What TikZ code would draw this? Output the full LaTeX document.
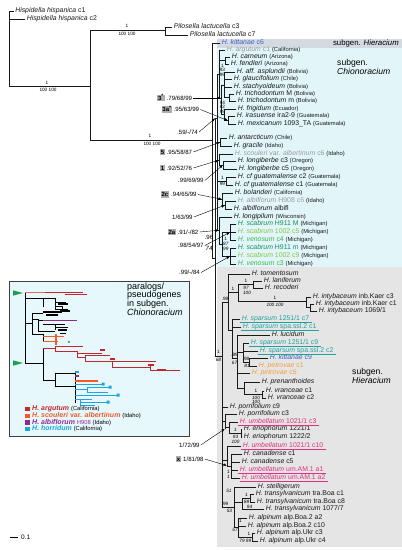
\documentclass[tikz,border=0pt]{standalone}
\usepackage{fontspec}
\setmainfont{Liberation Sans}
\usetikzlibrary{arrows.meta}
\definecolor{chbg}{HTML}{E2F6F9}
\definecolor{hibg}{HTML}{E5E5E5}
\definecolor{stripbg}{HTML}{D3DAE2}
\definecolor{grayname}{HTML}{9C9C9C}
\definecolor{kitblue}{HTML}{3F5FC0}
\definecolor{dkgreen}{HTML}{178A5C}
\definecolor{ltgreen}{HTML}{86C440}
\definecolor{mdgreen}{HTML}{3DB54A}
\definecolor{spteal}{HTML}{1FA3A0}
\definecolor{petro}{HTML}{F0A040}
\definecolor{umb}{HTML}{E0307F}
\definecolor{argred}{HTML}{C1272D}
\definecolor{argpink}{HTML}{D87070}
\definecolor{scoor}{HTML}{F15A29}
\definecolor{albpur}{HTML}{92278F}
\definecolor{horcy}{HTML}{1CA5E0}
\definecolor{trigreen}{HTML}{1AA34A}
\definecolor{insetbg}{HTML}{E6F8FB}
\newcommand{\spname}[1]{\textit{#1}}
\newcommand{\qlf}[1]{{\fontsize{5.8}{6}\selectfont #1}}
\newcommand{\tipn}[5]{\draw[br] (#2,#4) -- (#3,#4) node[tiplab] (#1) {#5};}
\newcommand{\brv}[3]{\draw[br] (#1,#2) -- (#1,#3);}
\newcommand{\brh}[3]{\draw[br] (#2,#1) -- (#3,#1);}
\newcommand{\supp}[4]{\node[supl] (#1) at (#2,#3) {#4};}
\newcommand{\suppi}[4]{\node[supi] (#1) at (#2,#3) {#4};}
\newcommand{\ulin}[2]{\draw[#2, line width=0.45pt] ([xshift=-2pt,yshift=0.6pt]#1.south west) -- ([xshift=2.5pt,yshift=0.6pt]#1.south east);}
\begin{document}
\begin{tikzpicture}[x=1pt,y=-1pt,
 br/.style={line width=0.55pt, black!90, line cap=rect},
 tiplab/.style={anchor=west, xshift=1.5pt, inner sep=0pt, text height=4.9pt, text depth=1.3pt, font=\fontsize{6.9}{8}\selectfont},
 supl/.style={inner sep=0pt, font=\fontsize{4.7}{5}\selectfont},
 supi/.style={inner sep=0pt, font=\fontsize{4.7}{5}\selectfont\itshape},
 alab/.style={anchor=west, inner sep=0pt, font=\fontsize{6.1}{6.5}\selectfont},
 gbox/.style={fill=black!32, inner sep=0.8pt, text height=4.4pt, text depth=0.3pt, font=\fontsize{6}{6.5}\selectfont\bfseries},
 arr/.style={line width=0.4pt, -{Triangle[length=3pt,width=2.4pt]}},
 inl/.style={line width=0.8pt},
 sglab/.style={anchor=west, inner sep=0pt, font=\fontsize{8.6}{9}\selectfont},
 leg/.style={anchor=west, inner sep=0pt, font=\fontsize{7}{8}\selectfont},
]
\useasboundingbox (0,0) rectangle (402,550);
\fill[white] (0,0) rectangle (402,550);
% backgrounds
\fill[stripbg] (217,38.5) rectangle (402,47.5);
\fill[chbg] (217,47.5) rectangle (402,267);
\fill[hibg] (217,267) rectangle (402,547);
\node[anchor=east, inner sep=0pt, font=\fontsize{7.8}{8}\selectfont] (sgh1) at (399,43) {subgen. \textit{Hieracium}};
\node[sglab] (sgc1) at (337,63) {subgen.};
\node[sglab] (sgc2) at (337,71.5) {\textit{Chionoracium}};
\node[sglab] (sgh2) at (352,372) {subgen.};
\node[sglab] (sgh3) at (352,380.5) {\textit{Hieracium}};
% outgroups
\brv{9}{11}{86}
\tipn{hisA}{9}{13.5}{11}{\spname{Hispidella hispanica} c1}
\tipn{hisB}{9}{25}{19}{\spname{Hispidella hispanica} c2}
\brh{86}{9}{90}
\supp{s01}{47}{82.5}{1}
\supp{s02}{48}{89.8}{100 100}
\brv{90}{30}{140}
\brh{30}{90}{165}
\supp{s03}{127}{26.3}{1}
\supp{s04}{127}{33.6}{100 100}
\brv{165}{27}{35}
\tipn{pilA}{165}{172}{27}{\spname{Pilosella lactucella} c3}
\tipn{pilB}{165}{188}{35}{\spname{Pilosella lactucella} c7}
\brh{140}{90}{212}
\supp{s05}{150}{136.3}{1}
\supp{s06}{152}{143.6}{100 100}
% backbone
\brv{212}{43}{258}
\tipn{kit6}{212}{220}{43}{\textcolor{kitblue}{\spname{H. kittanae} c6}}
\brh{258}{212}{215}
\brv{215}{118}{356}
\brh{118}{215}{217}
\brv{217}{74}{230}
% Chionoracium
\brh{74}{217}{219}
\brv{219}{50}{98}
\tipn{arg1}{219}{225}{50}{\textcolor{grayname}{\spname{H. argutum} c1} \qlf{(California)}}
\brh{60.5}{219}{225}
\brv{225}{57}{64}
\tipn{carn}{225}{230}{57}{\spname{H. carneum} \qlf{(Arizona)}}
\tipn{fend}{225}{229}{64}{\spname{H. fendleri} \qlf{(Arizona)}}
\brh{98}{219}{221}
\brv{221}{85}{114.5}
\brh{85}{221}{224}
\brv{224}{72}{97.5}
\tipn{aspl}{224}{235}{72}{\spname{H. aff. asplundii} \qlf{(Bolivia)}}
\tipn{glau}{224}{232}{79}{\spname{H. glaucifolium} \qlf{(Chile)}}
\tipn{stac}{224}{232}{87}{\spname{H. stachyoideum} \qlf{(Bolivia)}}
\brh{97.5}{224}{229}
\brv{229}{94}{101}
\tipn{triM}{229}{234}{94}{\spname{H. trichodontum} M \qlf{(Bolivia)}}
\tipn{trim}{229}{236}{101}{\spname{H. trichodontum} m \qlf{(Bolivia)}}
\brh{114.5}{221}{224}
\brv{224}{109}{120}
\tipn{frig}{224}{236}{109}{\spname{H. frigidum} \qlf{(Ecuador)}}
\brh{120}{224}{228}
\brv{228}{116}{124}
\tipn{iras}{228}{235}{116}{\spname{H. irasuense} ira2-9 \qlf{(Guatemala)}}
\tipn{mexi}{228}{236}{124}{\spname{H. mexicanum} 1093\_TA \qlf{(Guatemala)}}
\supp{s07}{222.5}{65.5}{1}
\supp{s08}{222.5}{70}{93}
\supp{s09}{222.5}{74.5}{99}
\supp{s10}{222.5}{102.5}{94}
\supp{s11}{222.5}{107}{62}
\supp{s12}{222.5}{111.5}{99}
\brh{142}{217}{220}
\brv{220}{138}{146}
\tipn{anta}{220}{227}{138}{\spname{H. antarcticum} \qlf{(Chile)}}
\tipn{grac}{220}{232}{146}{\spname{H. gracile} \qlf{(Idaho)}}
\brh{160}{217}{219}
\brv{219}{154}{165}
\tipn{scou}{219}{233}{154}{\textcolor{grayname}{\spname{H. scouleri} var. \spname{albertinum} c6} \qlf{(Idaho)}}
\brh{165}{219}{223}
\brv{223}{161}{169}
\tipn{lonA}{223}{236}{161}{\spname{H. longiberbe} c3 \qlf{(Oregon)}}
\tipn{lonB}{223}{237}{169}{\spname{H. longiberbe} c5 \qlf{(Oregon)}}
\brh{181}{217}{226}
\brv{226}{177}{185}
\tipn{guaA}{226}{236}{177}{\spname{H. cf guatemalense} c2 \qlf{(Guatemala)}}
\tipn{guaB}{226}{233}{185}{\spname{H. cf guatemalense} c1 \qlf{(Guatemala)}}
\supp{s13}{222.5}{178.3}{1}
\supp{s14}{222.5}{184.3}{99}
\brh{199}{217}{222}
\brv{222}{193}{205}
\tipn{bola}{222}{233}{193}{\spname{H. bolanderi} \qlf{(California)}}
\brh{205}{222}{225}
\brv{225}{201}{209}
\tipn{albA}{225}{236}{201}{\textcolor{grayname}{\spname{H. albiflorum} H908 c6} \qlf{(Idaho)}}
\tipn{albB}{225}{232}{209}{\spname{H. albiflorum} albifl}
\brh{230}{217}{219}
\brv{219}{217}{244}
\tipn{lonp}{219}{232}{217}{\spname{H. longipilum} \qlf{(Wisconsin)}}
\brh{244}{219}{222}
\brv{222}{232}{256}
\brh{232}{222}{230}
\brv{230}{224}{240}
\tipn{scA}{230}{236}{224}{\textcolor{dkgreen}{\spname{H. scabrum} H911 M} \qlf{(Michigan)}}
\tipn{scB}{230}{236}{232}{\textcolor{ltgreen}{\spname{H. scabrum} 1002 c5} \qlf{(Michigan)}}
\tipn{veA}{230}{236}{240}{\textcolor{mdgreen}{\spname{H. venosum} c4} \qlf{(Michigan)}}
\brh{256}{222}{230}
\brv{230}{248}{264}
\tipn{scC}{230}{236}{248}{\textcolor{dkgreen}{\spname{H. scabrum} H911 m} \qlf{(Michigan)}}
\tipn{scD}{230}{236}{256}{\textcolor{ltgreen}{\spname{H. scabrum} 1002 c9} \qlf{(Michigan)}}
\tipn{veB}{230}{236}{264}{\textcolor{mdgreen}{\spname{H. venosum} c3} \qlf{(Michigan)}}
\supp{s15}{225.8}{239}{1}
\suppi{s16}{225.8}{244}{87}
\suppi{s17}{225.8}{249}{99}
% Hieracium
\brh{356}{215}{222}
\supp{s18}{218.5}{352.3}{1}
\suppi{s19}{218.5}{360.2}{68}
\brv{222}{302}{507}
\brh{302}{222}{228}
\supp{s20}{225}{298.4}{.99}
\brv{228}{274}{330}
\tipn{tome}{228}{250}{274}{\spname{H. tomentosum}}
\brh{292}{228}{238}
\supp{s21}{233}{288.6}{1}
\brv{238}{284.5}{301}
\brh{284.5}{238}{253}
\supp{s22}{246}{281.3}{1}
\suppi{s23}{246}{288}{97}
\suppi{s24}{247}{293}{100}
\brv{253}{281}{288}
\tipn{lani}{253}{262}{281}{\spname{H. laniferum}}
\tipn{reco}{253}{263}{288}{\spname{H. recoderi}}
\brh{301}{238}{306}
\supp{s25}{275}{297.5}{1}
\suppi{s26}{275}{304.6}{100 100}
\brv{306}{297}{307.5}
\tipn{intA}{306}{311}{297}{\spname{H. intybaceum} inb.Kaer c3}
\brh{307.5}{306}{310}
\brv{310}{304}{311}
\tipn{intB}{310}{314}{304}{\spname{H. intybaceum} inb.Kaer c1}
\tipn{intC}{310}{317}{311}{\spname{H. intybaceum} 1069/1}
\brh{330}{228}{232}
\brv{232}{319}{358}
\tipn{spA}{232}{240}{319}{\textcolor{spteal}{\spname{H. sparsum} 1251/1 c7}}
\tipn{spB}{232}{241}{327}{\textcolor{spteal}{\spname{H. sparsum} spa.ssl.2 c1}}
\brh{358}{232}{237}
\supp{s27}{234.5}{354.6}{.99}
\suppi{s28}{234.5}{362.6}{67}
\brv{237}{335}{388}
\tipn{luci}{237}{270}{335}{\spname{H. lucidum}}
\brh{352}{237}{243}
\brv{243}{343}{362}
\tipn{spC}{243}{249}{343}{\textcolor{spteal}{\spname{H. sparsum} 1251/1 c9}}
\tipn{spD}{243}{258}{351}{\textcolor{spteal}{\spname{H. sparsum} spa.ssl.2 c2}}
\brh{362}{243}{249}
\supp{s29}{246}{358.6}{.98}
\suppi{s30}{247}{366}{81}
\brv{249}{358}{366}
\tipn{kit9}{249}{268}{358}{\textcolor{kitblue}{\spname{H. kittanae} c9}}
\tipn{petA}{249}{257}{366}{\textcolor{petro}{\spname{H. petrovae} c1}}
\tipn{petB}{237}{250}{373}{\textcolor{petro}{\spname{H. petrovae} c6}}
\brh{388}{237}{244}
\brv{244}{382}{394.5}
\tipn{pren}{244}{260}{382}{\spname{H. prenanthoides}}
\brh{394.5}{244}{262}
\supp{s31}{256}{391.2}{1}
\suppi{s32}{256}{397.6}{100}
\suppi{s33}{256}{402}{100}
\brv{262}{391}{398}
\tipn{vrA}{262}{264}{391}{\spname{H. vranceae} c1}
\tipn{vrB}{262}{266}{398}{\spname{H. vranceae} c2}
\tipn{porA}{222}{228}{407}{\spname{H. porrifolium} c9}
\brh{421}{222}{225}
\brv{225}{414}{429}
\tipn{porB}{225}{237}{414}{\spname{H. porrifolium} c3}
\brh{427}{225}{229}
\brv{229}{422}{433}
\tipn{umA}{229}{238}{422}{\textcolor{umb}{\spname{H. umbellatum} 1021/1 c3}}
\brh{433}{229}{241}
\supp{s34}{235.5}{430.2}{1}
\suppi{s35}{235.5}{436.5}{93}
\suppi{s36}{235.5}{441.5}{100}
\brv{241}{429}{437}
\tipn{erA}{241}{242}{429}{\spname{H. eriophorum} 1221/1}
\tipn{erB}{241}{242}{437}{\spname{H. eriophorum} 1222/2}
\brh{460}{222}{227}
\brv{227}{446}{466}
\tipn{umB}{227}{241}{446}{\textcolor{umb}{\spname{H. umbellatum} 1021/1 c10}}
\brh{466}{227}{231}
\brv{231}{454}{478}
\tipn{caA}{231}{242}{454}{\spname{H. canadense} c1}
\tipn{caB}{231}{240}{462}{\spname{H. canadense} c5}
\tipn{umC}{231}{238}{470}{\textcolor{umb}{\spname{H. umbellatum} um.AM.1 a1}}
\tipn{umD}{231}{240}{478}{\textcolor{umb}{\spname{H. umbellatum} um.AM.1 a2}}
\supp{s37}{228.5}{471.5}{1}
\suppi{s38}{228.5}{476.5}{1}
\suppi{s39}{229}{491}{51}
\brh{507}{222}{234}
\supp{s40}{225}{503.4}{.99}
\suppi{s41}{229.5}{511}{53}
\brv{234}{487}{527.5}
\tipn{stel}{234}{256}{487}{\spname{H. stelligerum}}
\brh{502}{234}{242}
\brv{242}{498}{509}
\brh{498}{242}{250}
\brv{250}{494}{502}
\tipn{trA}{250}{254}{494}{\spname{H. transylvanicum} tra.Boa c1}
\tipn{trB}{250}{255}{502}{\spname{H. transylvanicum} tra.Boa c8}
\tipn{trC}{242}{264}{509}{\spname{H. transylvanicum} 1077/7}
\supp{s42}{246.5}{494.8}{1}
\suppi{s43}{246.5}{502.3}{88}
\suppi{s44}{249.5}{506.4}{94}
\brh{527.5}{234}{238}
\brv{238}{518}{537}
\tipn{alA}{238}{247}{518}{\spname{H. alpinum} alp.Boa.2 a2}
\tipn{alB}{238}{246}{526}{\spname{H. alpinum} alp.Boa.2 c10}
\brh{537}{238}{252}
\brv{252}{533}{541}
\tipn{alC}{252}{255}{533}{\spname{H. alpinum} alp.Ukr c3}
\tipn{alD}{252}{258}{541}{\spname{H. alpinum} alp.Ukr c4}
\supp{s45}{240.5}{521}{1}
\suppi{s46}{235}{530}{57}
\supp{s47}{249}{534.3}{1}
\suppi{s48}{242}{540.8}{79}
\suppi{s49}{248.5}{540.8}{99}
% underlines
\ulin{spA}{spteal}\ulin{spB}{spteal}\ulin{spC}{spteal}\ulin{spD}{spteal}
\ulin{umA}{umb}\ulin{umB}{umb}\ulin{umC}{umb}\ulin{umD}{umb}
% node coordinates for arrows
\coordinate (t3) at (220.6,98);
\coordinate (t3a) at (227.6,120.5);
\coordinate (t59) at (215,118.4);
\coordinate (t5) at (219.6,142.3);
\coordinate (t1) at (218.6,160.3);
\coordinate (t99) at (222.6,165.3);
\coordinate (t2c) at (221.6,199.2);
\coordinate (t163) at (224.6,205.3);
\coordinate (t2a) at (218.6,230.3);
\coordinate (t98) at (229.6,232.5);
\coordinate (t84) at (229.6,256.4);
\coordinate (t72) at (224.6,429);
\coordinate (t81) at (226.6,465.5);
% left labels
\node[gbox] (b3) at (161,98) {3\textsuperscript{*}};
\node[alab] (l3) at (166.5,98) {.79/68/99};
\draw[arr] ([xshift=1pt]l3.east) -- (t3);
\node[gbox] (b3a) at (167,109.5) {3a\textsuperscript{*}};
\node[alab] (l3a) at (173.5,109.5) {.95/63/99};
\draw[arr] ([xshift=1pt]l3a.east) -- (t3a);
\node[alab] (l59) at (177,132) {.59/-/74};
\draw[arr] ([xshift=1pt]l59.east) -- (t59);
\node[gbox] (b5) at (162.5,152) {5};
\node[alab] (l5) at (166.5,152) {.95/58/87};
\draw[arr] ([xshift=1pt]l5.east) -- (t5);
\node[gbox] (b1) at (162.5,168) {1};
\node[alab] (l1) at (166.5,168) {.92/52/76};
\draw[arr] ([xshift=1pt]l1.east) -- (t1);
\node[alab] (l99) at (178,180.5) {.99/69/99};
\draw[arr] ([xshift=1pt]l99.east) -- (t99);
\node[gbox] (b2c) at (165,194.5) {2c};
\node[alab] (l2c) at (171,194.5) {.94/65/99};
\draw[arr] ([xshift=1pt]l2c.east) -- (t2c);
\node[alab] (l163) at (172,217) {1/63/99};
\draw[arr] ([xshift=1pt]l163.east) -- (t163);
\node[gbox] (b2a) at (172,232) {2a};
\node[alab] (l2a) at (177.5,232) {.91/-/82};
\draw[arr] ([xshift=1pt]l2a.east) -- (t2a);
\node[alab] (l96) at (204.5,237.8) {.96};
\node[alab] (l98) at (178,245.5) {.98/54/97};
\node[alab, font=\fontsize{6.1}{6.5}\selectfont\itshape] (l74) at (205.5,248.3) {74};
\draw[arr] ([xshift=1pt]l98.east) -- (t98);
\node[alab] (l84) at (179,272.5) {.99/-/84};
\draw[arr] ([xshift=1pt]l84.east) -- (t84);
\node[alab] (l72) at (179,445) {1/72/99};
\draw[arr] ([xshift=1pt]l72.east) -- (t72);
\node[gbox] (bx) at (178.5,459) {x};
\node[alab] (l81) at (183,459) {1/81/98};
\draw[arr] ([xshift=1pt]l81.east) -- (t81);
% inset
\draw[fill=insetbg, draw=black!75, line width=0.8pt] (9,281) rectangle (189,436);
\node[sglab, font=\fontsize{9}{9}\selectfont] (pa1) at (127,287) {paralogs/};
\node[sglab, font=\fontsize{9}{9}\selectfont] (pa2) at (127,295.5) {pseudogenes};
\node[sglab, font=\fontsize{9}{9}\selectfont] (pa3) at (127,304) {in subgen.};
\node[sglab, font=\fontsize{9}{9}\selectfont] (pa4) at (127,312.5) {\textit{Chionoracium}};
\fill[trigreen] (13,290.3) -- (23,293) -- (13,295.7) -- cycle;
\fill[trigreen] (13,360.3) -- (23,363) -- (13,365.7) -- cycle;
\draw[inl, line width=1pt] (25,292) -- (25,363);
\draw[inl, argpink] (25,292) -- (45,292);
\draw[inl, argred] (45,292) -- (83,292);
\draw[argred, line width=1.6pt] (65,294.5) -- (87,294.5);
\draw[inl] (25,298) -- (43,298) (43,298) -- (43,307) (43,298) -- (55,298) (55,298) -- (55,309)
 (55,302) -- (66,302) (55,306) -- (62,306) (62,306) -- (62,311) (55,309) -- (68,309);
\draw[line width=1.5pt] (58,304) -- (68,304) (60,311) -- (70,311);
\draw[inl] (25,323) -- (32,323) (32,313) -- (32,334) (32,313) -- (43,313);
\draw[line width=1.6pt] (43,312) -- (62,312) (46,315) -- (58,315);
\draw[inl] (32,319) -- (38,319) (38,319) -- (38,331) (38,320.5) -- (43,320.5);
\draw[inl, albpur] (43,320.5) -- (77,320.5);
\draw[inl] (43,324) -- (65,324) (55,324) -- (55,330) (55,327) -- (68,327) (38,331) -- (55,331);
\draw[line width=1.4pt] (58,330) -- (67,330) (60,333.5) -- (66,333.5);
\draw[inl] (32,334) -- (43,334) (43,334) -- (43,342);
\draw[scoor, line width=1.2pt] (43,336.5) -- (64,336.5) (43,341.5) -- (58,341.5);
\draw[scoor, line width=2.6pt] (56,334) -- (56,345);
\node[inner sep=0pt, font=\fontsize{6}{6}\selectfont] (ast) at (69,343) {*};
\draw[inl] (25,363) -- (43,363) (43,348) -- (43,380);
\draw[inl, argred] (43,348) -- (55,348) (55,346) -- (55,351) (55,346) -- (83,346)
 (55,351) -- (77,351) (77,351) -- (77,357) (77,353) -- (102,353) (77,357) -- (85,357)
 (85,355.5) -- (85,361) (85,355.5) -- (110,355.5) (85,361) -- (112,361) (112,361) -- (112,367)
 (112,361) -- (156,361) (112,367) -- (150,367) (150,364) -- (150,370) (150,370) -- (180,370);
\draw[argred, line width=2pt] (100,349.5) -- (105,349.5) (110,358.5) -- (115,358.5) (148,365) -- (154,365) (157,369.8) -- (166,369.8);
\draw[inl] (43,380) -- (55,380) (55,373) -- (55,386) (55,373) -- (75,373) (55,386) -- (75,386) (75,373) -- (75,403);
\draw[horcy, line width=1.6pt] (75,372) -- (79,372);
\draw[albpur, line width=1.6pt] (75,376) -- (79,376);
\draw[scoor, line width=1.2pt] (75,381) -- (98,381);
\draw[inl, horcy] (75,384) -- (103,384) (75,389) -- (87,389) (87,387) -- (87,392) (87,387) -- (110,387) (87,392) -- (108,392)
 (75,395) -- (82,395) (82,395) -- (118,395) (75,399) -- (92,399) (80,402) -- (108,402) (80,399) -- (80,405) (80,405) -- (95,405);
\fill[horcy] (108.5,385.5) rectangle (111.5,388.5) (116.5,393.5) rectangle (119.5,396.5) (106.5,400.5) rectangle (109.5,403.5) (101.5,382.5) rectangle (104.5,385.5);
% legend
\fill[argred] (25,406.7) rectangle (29.6,411.3);
\fill[scoor] (25,413.7) rectangle (29.6,418.3);
\fill[albpur] (25,420.2) rectangle (29.6,424.8);
\fill[horcy] (25,426.7) rectangle (29.6,431.3);
\node[leg] (lg1) at (32,409) {\textcolor{argred}{\textbf{\textit{H. argutum}}} \qlf{(California)}};
\node[leg] (lg2) at (32,416) {\textcolor{scoor}{\textbf{\textit{H. scouleri} var. \textit{albertinum}}} \qlf{(Idaho)}};
\node[leg] (lg3) at (32,422.5) {\textcolor{albpur}{\textbf{\textit{H. albiflorum}} \qlf{H908}} \qlf{(Idaho)}};
\node[leg] (lg4) at (32,429) {\textcolor{horcy}{\textbf{\textit{H. horridum}}} \qlf{(California)}};
% scale
\coordinate (scA) at (10,537);
\coordinate (scB) at (18,537);
\draw[line width=0.6pt] (scA) -- (scB);
\node[anchor=west, inner sep=0pt, font=\fontsize{6.5}{7}\selectfont] (scl) at (21,537) {0.1};
\end{tikzpicture}
\end{document}
